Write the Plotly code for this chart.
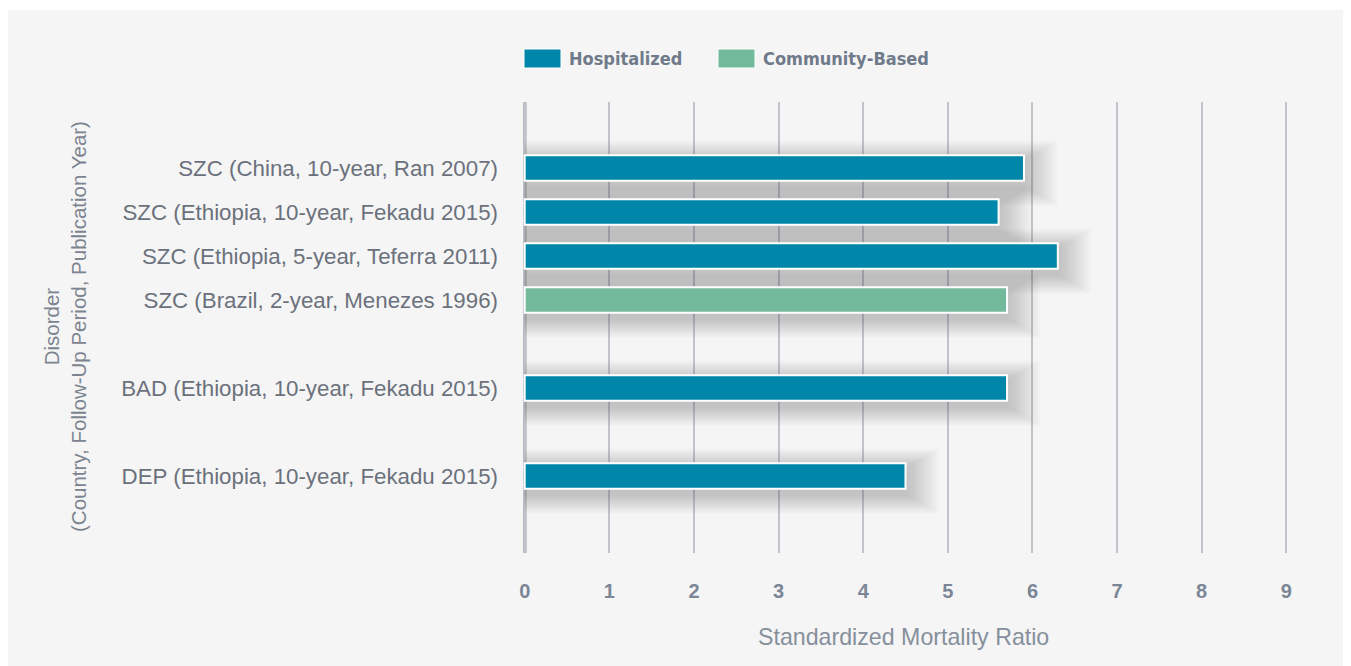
import plotly.graph_objects as go

# ---- data ----
categories = [
    "SZC (China, 10-year, Ran 2007)",
    "SZC (Ethiopia, 10-year, Fekadu 2015)",
    "SZC (Ethiopia, 5-year, Teferra 2011)",
    "SZC (Brazil, 2-year, Menezes 1996)",
    "BAD (Ethiopia, 10-year, Fekadu 2015)",
    "DEP (Ethiopia, 10-year, Fekadu 2015)",
]
smr_values = [5.9, 5.6, 6.3, 5.7, 5.7, 4.5]
setting = ["Hospitalized", "Hospitalized", "Hospitalized", "Community-Based",
           "Hospitalized", "Hospitalized"]
# category order on the axis (blank spacers separate disorder groups)
category_order = [categories[0], categories[1], categories[2], categories[3], " ",
                  categories[4], "  ", categories[5]]
x_ticks = [0, 1, 2, 3, 4, 5, 6, 7, 8, 9]
legend_names = ["Hospitalized", "Community-Based"]

# ---- style ----
OFF = 8  # page body margin
W, H = 1351, 666
L, R, T, B = 523 - OFF, 1288 - OFF, 102 - OFF, 553 - OFF
colors = {"Hospitalized": "#0086a8", "Community-Based": "#73b99b"}
BAR_W = 0.58
FONT = "Liberation Sans, Arial, Helvetica, sans-serif"


def px_x(p):
    return (p - OFF - L) / (R - L)


def px_y(p):
    return (B - (p - OFF)) / (B - T)


fig = go.Figure()

# soft drop shadows behind bars
N_SH = 18
for k in range(1, N_SH + 1):
    w = BAR_W + 0.05 * k
    fig.add_trace(go.Bar(
        y=categories, x=[v + 0.022 * k for v in smr_values], orientation="h",
        width=w, offset=-w / 2 + 0.12,
        marker=dict(color="rgba(112,114,120,0.02)", line=dict(width=0)),
        hoverinfo="skip", showlegend=False,
    ))

for name in legend_names:
    ys = [c for c, s in zip(categories, setting) if s == name]
    xs = [v for v, s in zip(smr_values, setting) if s == name]
    fig.add_trace(go.Bar(
        y=ys, x=xs, orientation="h", name=name, width=BAR_W,
        marker=dict(color=colors[name], line=dict(color="white", width=2)),
        showlegend=False,
    ))

shapes = [
    dict(type="rect", xref="paper", yref="paper", layer="below",
         x0=px_x(5), x1=px_x(1346), y0=px_y(680), y1=px_y(10),
         fillcolor="#f5f5f5", line=dict(width=0)),
]
annotations = []

# custom legend
leg_x = [524, 718]
for name, lx in zip(legend_names, leg_x):
    shapes.append(dict(type="rect", xref="paper", yref="paper",
                       x0=px_x(lx), x1=px_x(lx + 37), y0=px_y(68), y1=px_y(49),
                       fillcolor=colors[name], line=dict(color="white", width=1)))
    annotations.append(dict(xref="paper", yref="paper", x=px_x(lx + 43), y=px_y(59),
                            xanchor="left", yanchor="middle", showarrow=False,
                            text=name,
                            font=dict(family="DejaVu Sans Condensed, sans-serif",
                                      size=18, color="#6f7a8a", weight="bold")))

# axis titles
annotations.append(dict(xref="paper", yref="paper", x=px_x(903), y=px_y(637),
                        xanchor="center", yanchor="middle", showarrow=False,
                        text="Standardized Mortality Ratio",
                        font=dict(family=FONT, size=23.2, color="#86909c")))
annotations.append(dict(xref="paper", yref="paper", x=px_x(65), y=px_y(327),
                        xanchor="center", yanchor="middle", showarrow=False,
                        textangle=-90,
                        text="Disorder<br>(Country, Follow-Up Period, Publication Year)",
                        font=dict(family=FONT, size=20.5, color="#7c8490")))

fig.update_layout(
    width=W, height=H,
    margin=dict(l=L, r=W - R, t=T, b=H - B, pad=0),
    paper_bgcolor="white", plot_bgcolor="rgba(0,0,0,0)",
    barmode="overlay",
    shapes=shapes, annotations=annotations,
    showlegend=False,
)
fig.update_xaxes(
    range=[-0.02, 9.02], tickvals=x_ticks, ticktext=[str(t) for t in x_ticks],
    showgrid=True, gridcolor="#c0c4ca", gridwidth=2,
    zeroline=False, showline=False,
    ticks="", ticklabelstandoff=24,
    tickfont=dict(family=FONT, size=20, color="#7b8696", weight="bold"),
    layer="below traces",
)
fig.update_yaxes(
    type="category", categoryorder="array", categoryarray=category_order,
    range=[8.75, -1.5], showgrid=False, zeroline=False, showline=False,
    ticks="", ticklabelstandoff=24,
    tickfont=dict(family=FONT, size=22.3, color="#6b717c"),
)
# thicker zero line drawn as the axis baseline
fig.add_vline(x=0, line=dict(color="#b7bcc3", width=4), layer="below")

fig.write_html("out.html")
